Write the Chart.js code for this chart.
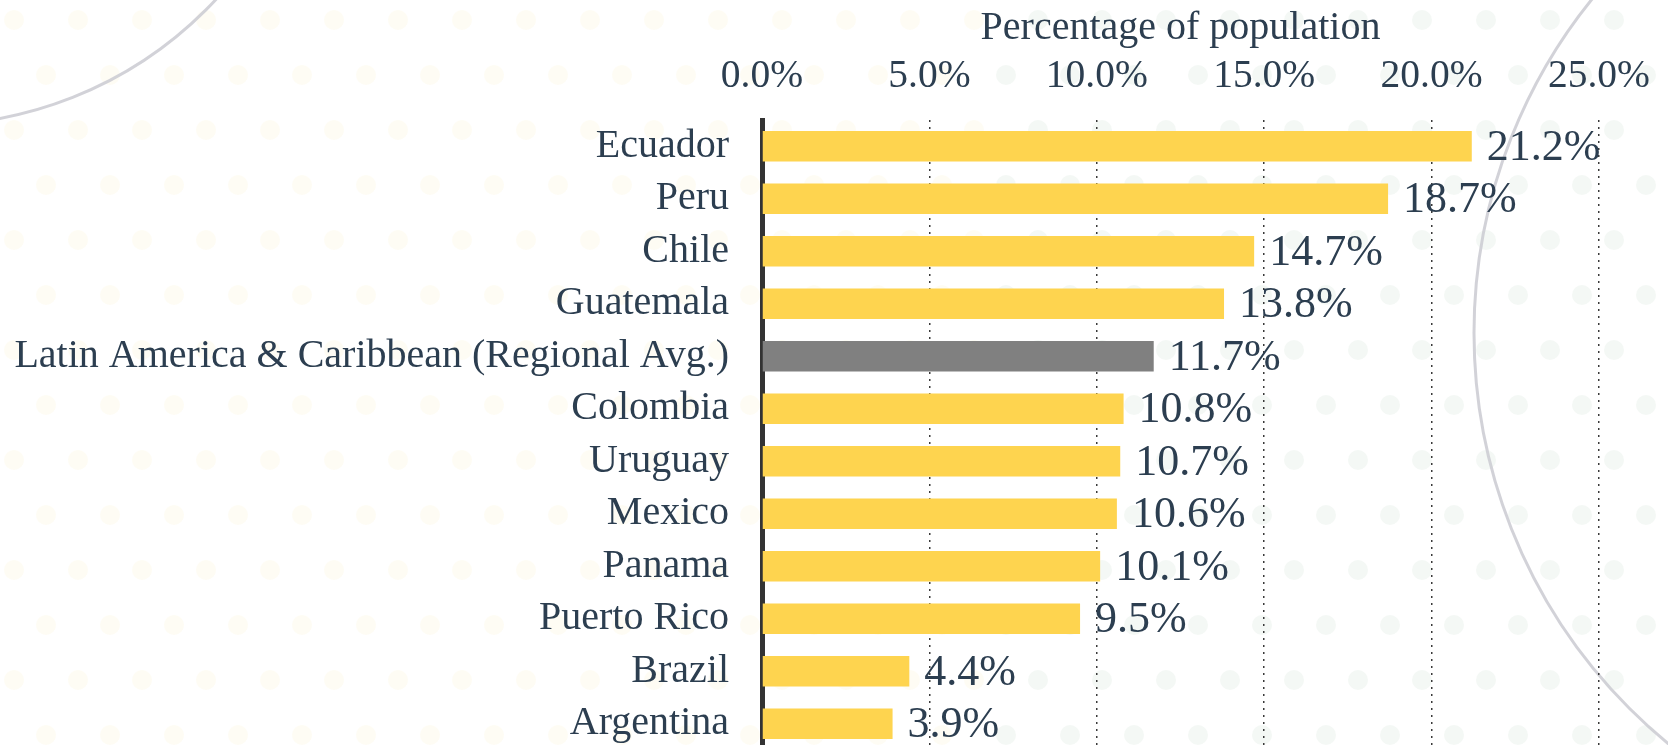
<!DOCTYPE html>
<html>
<head>
<meta charset="utf-8">
<script src="https://cdn.jsdelivr.net/npm/chart.js@4/dist/chart.umd.min.js"></script>
<style>
  html, body { margin: 0; padding: 0; background: #ffffff; overflow: hidden; }
  #wrap { position: absolute; left: 0; top: 0; width: 1668px; height: 750px; }
</style>
</head>
<body>
<div id="wrap"><canvas id="c"></canvas></div>
<script>
// ---- data ----
const categories = [
  "Ecuador", "Peru", "Chile", "Guatemala",
  "Latin America & Caribbean (Regional Avg.)",
  "Colombia", "Uruguay", "Mexico", "Panama", "Puerto Rico", "Brazil", "Argentina"
];
const values = [21.2, 18.7, 14.7, 13.8, 11.7, 10.8, 10.7, 10.6, 10.1, 9.5, 4.4, 3.9];
const regionalLabel = "Latin America & Caribbean (Regional Avg.)";
const xTickValues = [0, 5, 10, 15, 20, 25];
const axisTitle = "Percentage of population";

// ---- styles ----
const FONT = "'Liberation Serif', 'Times New Roman', serif";
const TEXT = "#2c3e50";
const YELLOW = "#FED44F";
const GREY = "#808080";

const backgroundPlugin = {
  id: "bgDecor",
  beforeDraw(chart) {
    const ctx = chart.ctx;
    const W = chart.width, H = chart.height;
    ctx.save();
    ctx.fillStyle = "#ffffff";
    ctx.fillRect(0, 0, W, H);
    // faint decorative dots
    for (let r = 0; r * 55 < H + 40; r++) {
      for (let c = 0; c * 64 < W + 40; c++) {
        const x = c * 64 + (r % 2 ? 32 : 0) + 14;
        const y = r * 55 + 20;
        if (x < 980) ctx.fillStyle = "rgba(245, 225, 130, 0.09)";
        else ctx.fillStyle = "rgba(175, 205, 185, 0.14)";
        ctx.beginPath();
        ctx.arc(x, y, 10, 0, Math.PI * 2);
        ctx.fill();
      }
    }
    // decorative arcs
    ctx.strokeStyle = "rgba(205, 205, 212, 0.9)";
    ctx.lineWidth = 3;
    ctx.beginPath();
    ctx.arc(-72, -268, 393, 0, Math.PI);
    ctx.stroke();
    ctx.beginPath();
    ctx.arc(2005, 333, 531, Math.PI * 0.5, Math.PI * 1.5);
    ctx.stroke();
    ctx.restore();
  }
};

const valueLabelPlugin = {
  id: "valueLabels",
  afterDatasetsDraw(chart) {
    const ctx = chart.ctx;
    const meta = chart.getDatasetMeta(0);
    ctx.save();
    ctx.font = "44px " + FONT;
    ctx.fillStyle = TEXT;
    ctx.textAlign = "left";
    ctx.textBaseline = "middle";
    meta.data.forEach((bar, i) => {
      const v = chart.data.datasets[0].data[i];
      ctx.fillText(v.toFixed(1) + "%", bar.x + 15, bar.y + 2);
    });
    ctx.restore();
  }
};

new Chart(document.getElementById("c"), {
  type: "bar",
  data: {
    labels: categories,
    datasets: [{
      data: values,
      backgroundColor: categories.map(c => c === regionalLabel ? GREY : YELLOW),
      borderWidth: 0,
      barPercentage: 0.585,
      categoryPercentage: 1.0
    }]
  },
  options: {
    indexAxis: "y",
    responsive: true,
    maintainAspectRatio: false,
    animation: false,
    layout: { padding: { left: 0, right: 69, top: 0, bottom: 0 } },
    plugins: { legend: { display: false }, tooltip: { enabled: false } },
    scales: {
      x: {
        type: "linear",
        position: "top",
        min: 0,
        max: 25,
        afterBuildTicks(scale) { scale.ticks = xTickValues.map(v => ({ value: v })); },
        afterFit(scale) { scale.height = 120; scale.paddingLeft = 0; scale.paddingRight = 0; },
        ticks: {
          font: { family: FONT, size: 39.5 },
          color: TEXT,
          padding: 20,
          callback: v => Number(v).toFixed(1) + "%"
        },
        title: {
          display: true,
          text: axisTitle,
          font: { family: FONT, size: 40 },
          color: TEXT,
          padding: { top: 4, bottom: 0 }
        },
        grid: { display: true, color: "#3a3a3a", lineWidth: 1.5, drawTicks: false },
        border: { display: false, dash: [2, 5] }
      },
      y: {
        type: "category",
        afterFit(scale) { scale.width = 762; scale.paddingTop = 0; scale.paddingBottom = 0; },
        ticks: {
          font: { family: FONT, size: 40 },
          color: TEXT,
          padding: 33,
          autoSkip: false
        },
        grid: { display: false, drawTicks: false },
        border: { display: true, color: "#333333", width: 5 }
      }
    }
  },
  plugins: [backgroundPlugin, valueLabelPlugin]
});
</script>
</body>
</html>
